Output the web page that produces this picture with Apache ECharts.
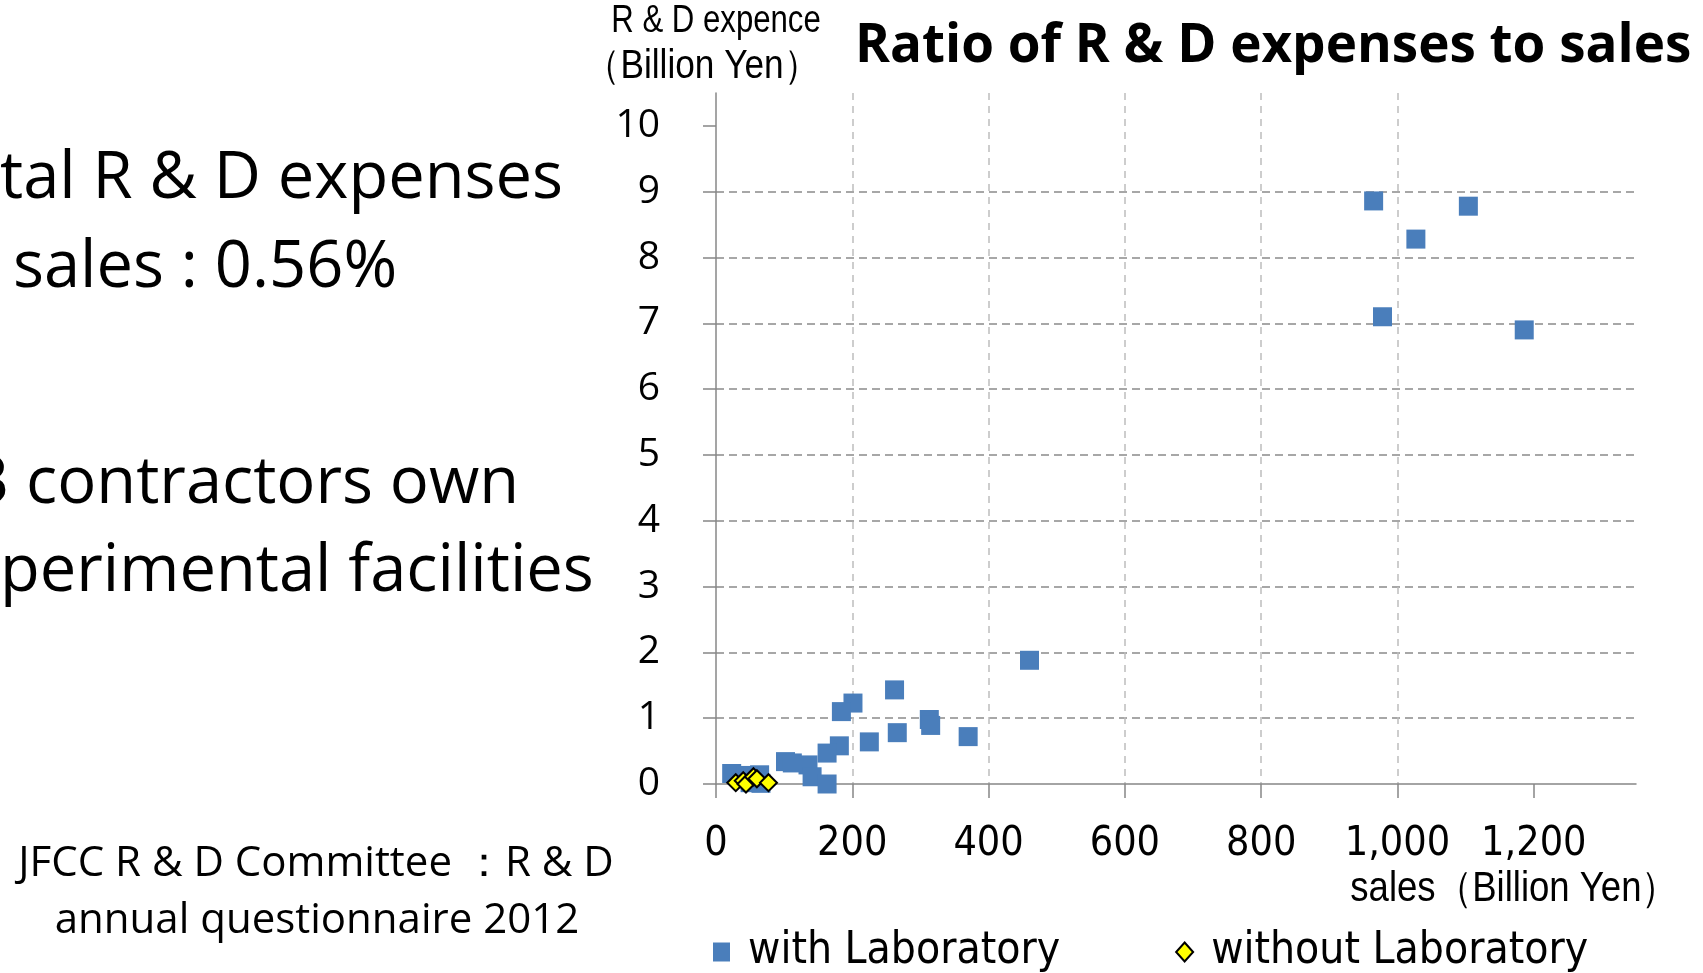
<!DOCTYPE html>
<html>
<head>
<meta charset="utf-8">
<title>Ratio of R & D expenses to sales</title>
<script src="https://cdn.jsdelivr.net/npm/echarts@6/dist/echarts.min.js"></script>
<style>
    html,body{margin:0;padding:0;background:#fff;}
    #chart{width:1703px;height:973px;}
</style>
</head>
<body>
<div id="chart"></div>
<script>
// sales (billion yen) / R & D expence (billion yen)
const withLabSales=[965,1104,1027,978,1186,460,262,201,184,313,315,266,370,225,181,163,102,112,135,141,163,23,44,64,50,66];
const withLabRD=[8.86,8.78,8.28,7.10,6.90,1.88,1.43,1.23,1.10,0.98,0.89,0.78,0.72,0.64,0.58,0.47,0.34,0.32,0.29,0.11,0.00,0.16,0.13,0.14,0.02,0.01];
const withoutLabSales=[29,40,44,55,60,77];
const withoutLabRD=[0.02,0.05,0.00,0.11,0.08,0.02];

const xTicks=[0,200,400,600,800,1000,1200];
const yTicks=[0,1,2,3,4,5,6,7,8,9,10];

const seriesNames=['with Laboratory','without Laboratory'];

const BODY='"Open Sans", "Noto Sans", sans-serif';
const COND='"DejaVu Sans Condensed", "Liberation Sans", sans-serif';
const ARIAL='"Liberation Sans", Arial, sans-serif';

let chart=echarts.init(document.getElementById('chart'));

function pairs(xs,ys){
    return xs.map((x,i)=>[x,ys[i]]);
}

//sx: 横向压缩，用来模仿窄字体
function txt(text,x,y,font,align,sx){
    return {
        type:'text',
        x:x,
        y:y,
        scaleX:sx||1,
        style:{
            text:text,
            font:font,
            fill:'#000',
            textAlign:align||'left',
            textVerticalAlign:'middle',
        },
    };
}

let option={
    backgroundColor:'#fff',
    animation:false,
    grid:{
        left:716,
        top:93,
        width:920,
        height:691,
        containLabel:false,
    },
    xAxis:{
        type:'value',
        min:0,
        max:1350,
        interval:100,
        axisLine:{
            lineStyle:{color:'#878787',width:1.5},
        },
        axisTick:{
            show:true,
            length:14,
            customValues:xTicks,
            lineStyle:{color:'#878787',width:1.5},
        },
        axisLabel:{
            customValues:xTicks,
            margin:40,
            color:'#000',
            fontFamily:COND,
            fontSize:41,
            formatter:function(v){
                return v.toLocaleString('en-US');
            },
        },
        splitLine:{
            show:true,
            showMinLine:false,
            showMaxLine:false,
            lineStyle:{color:'#bdbdbd',width:1.5,type:[7,6]},
        },
    },
    yAxis:{
        type:'value',
        min:0,
        max:10.5,
        interval:1,
        axisLine:{
            show:true,
            lineStyle:{color:'#878787',width:1.5},
        },
        axisTick:{
            show:true,
            length:13,
            customValues:yTicks,
            lineStyle:{color:'#878787',width:1.5},
        },
        axisLabel:{
            customValues:yTicks,
            margin:56,
            color:'#000',
            fontFamily:BODY,
            fontSize:39,
        },
        splitLine:{
            show:true,
            showMinLine:false,
            showMaxLine:false,
            lineStyle:{color:'#8a8a8a',width:1.5,type:[8,5]},
        },
    },
    legend:{
        data:seriesNames,
        left:713,
        top:930,
        itemWidth:17,
        itemHeight:19,
        itemGap:115,
        padding:0,
        textStyle:{
            color:'#000',
            fontFamily:COND,
            fontSize:44,
            padding:[0,0,0,13],
        },
    },
    series:[
        {
            name:seriesNames[0],
            type:'scatter',
            symbol:'rect',
            symbolSize:19,
            itemStyle:{
                color:'#4A7EBB',
                opacity:1,
            },
            data:pairs(withLabSales,withLabRD),
        },
        {
            name:seriesNames[1],
            type:'scatter',
            symbol:'diamond',
            symbolSize:17,
            itemStyle:{
                color:'#FFFF00',
                borderColor:'#000',
                borderWidth:2,
                opacity:1,
            },
            data:pairs(withoutLabSales,withoutLabRD),
        },
    ],
    graphic:[
        txt('Ratio of R & D expenses to sales',855,47,'bold 53px '+BODY),
        txt('R & D expence',716,22,'38px '+ARIAL,'center',0.82),
        txt('（Billion Yen）',702,67,'40px '+ARIAL,'center',0.88),
        txt('sales（Billion Yen）',1678,889,'42px '+ARIAL,'right',0.87),
        txt('tal R & D expenses',0,179,'65px '+BODY),
        txt('sales : 0.56%',13,268,'65px '+BODY),
        txt('3 contractors own',-28,484,'65px '+BODY),
        txt('perimental facilities',0,572,'65px '+BODY),
        txt('JFCC R & D Committee ：R & D',316,864,'42px '+BODY,'center'),
        txt('annual questionnaire 2012',317,921,'42px '+BODY,'center'),
    ],
};

chart.setOption(option);
</script>
</body>
</html>
